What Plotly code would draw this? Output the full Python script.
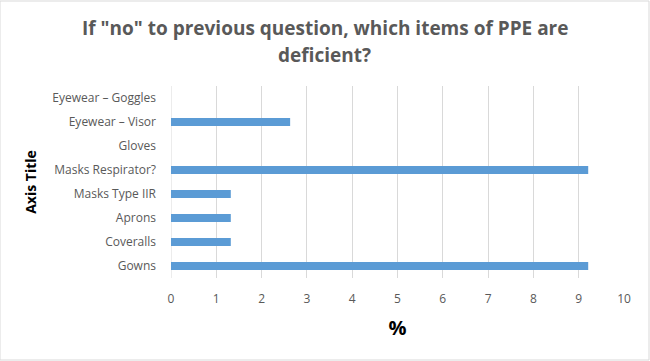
import plotly.graph_objects as go

categories = ["Gowns", "Coveralls", "Aprons", "Masks Type IIR", "Masks Respirator?",
              "Gloves", "Eyewear – Visor", "Eyewear – Goggles"]
values = [9.21, 1.32, 1.32, 1.32, 9.21, 0, 2.63, 0]
x_ticks = list(range(0, 11))

fig = go.Figure(go.Bar(
    x=values, y=categories, orientation="h",
    marker=dict(color="#5B9BD5", line=dict(width=0)),
    width=0.33,
))

fig.update_layout(
    width=650, height=361,
    margin=dict(l=171, r=26, t=86, b=83),
    paper_bgcolor="white", plot_bgcolor="white",
    showlegend=False,
    font=dict(family="Open Sans", color="#595959"),
    annotations=[
        dict(text='<b>If "no" to previous question, which items of PPE are</b>',
             xref="paper", yref="paper", x=(325-171)/453, y=1+(86-28)/192,
             xanchor="center", yanchor="middle", showarrow=False,
             font=dict(family="Open Sans", size=19, color="#595959")),
        dict(text='<b>deficient?</b>',
             xref="paper", yref="paper", x=(324-171)/453, y=1+(86-55)/192,
             xanchor="center", yanchor="middle", showarrow=False,
             font=dict(family="Open Sans", size=19, color="#595959")),
    ],
    shapes=[
        dict(type="rect", xref="paper", yref="paper",
             x0=-171/453, x1=1+25/453, y0=-82/192, y1=1+85/192,
             line=dict(color="#D9D9D9", width=1)),
        dict(type="line", xref="x", yref="paper", x0=0, x1=0, y0=0, y1=1,
             layer="below", line=dict(color="#D9D9D9", width=1)),
    ],
)

fig.update_xaxes(
    range=[0, 10], tickvals=x_ticks, showgrid=True, gridcolor="#D9D9D9", gridwidth=1,
    zeroline=False, showline=False,
    tickfont=dict(size=12, color="#595959"),
    ticks="", ticklabelstandoff=12,
    title=dict(text="<b>%</b>", font=dict(size=20, color="black"), standoff=14),
)
fig.update_yaxes(
    categoryorder="array", categoryarray=categories,
    showgrid=False, zeroline=False, showline=False, ticks="",
    tickfont=dict(size=12, color="#595959"), ticklabelstandoff=14,
    title=dict(text="<b>Axis Title</b>", font=dict(size=14, color="black"), standoff=12),
)

fig.write_html("out.html")
